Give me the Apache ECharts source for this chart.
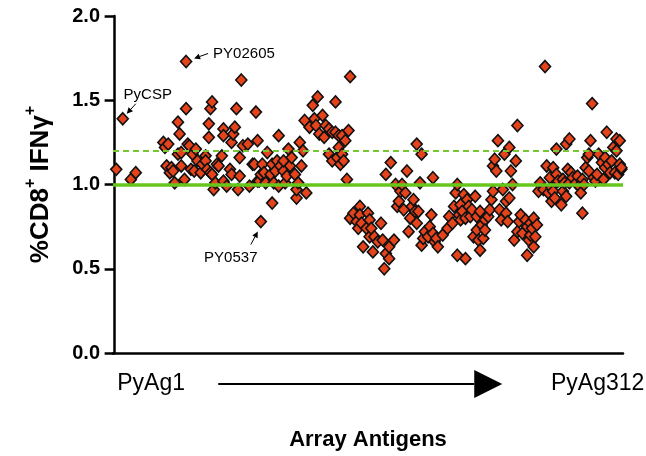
<!DOCTYPE html>
<html>
<head>
<meta charset="utf-8">
<script src="https://cdn.jsdelivr.net/npm/echarts@6/dist/echarts.min.js"></script>
<style>
html,body{margin:0;padding:0;background:#fff;}
#chart{width:646px;height:456px;}
</style>
</head>
<body>
<div id="chart"></div>
<script>
// antigen index (x) and %CD8+ IFNγ+ (y)
const antigenIndex = [1,5,10,13,30,31,32,33,34,35,36,37,39,39,40,41,41,43,44,44,45,46,47,48,49,50,51,53,54,56,56,57,58,58,59,59,60,60,61,62,63,64,66,67,67,67,69,71,72,72,73,74,75,76,77,77,78,79,82,83,85,86,87,88,88,89,90,90,91,92,93,94,96,97,97,98,99,100,101,101,102,104,104,105,106,107,108,109,111,112,112,113,114,115,116,117,118,120,122,123,124,125,126,128,129,130,132,132,134,134,136,136,137,138,138,139,140,140,141,142,143,144,145,145,147,149,150,151,151,152,153,155,156,157,157,158,159,160,162,164,165,166,167,167,169,169,170,172,173,174,175,176,177,178,179,180,181,182,183,184,185,186,186,187,188,189,189,190,191,193,194,195,196,196,197,198,199,202,205,206,208,209,210,211,211,212,213,213,214,215,216,216,217,218,219,220,221,222,223,223,224,225,225,226,227,228,228,230,231,232,233,233,234,235,236,237,238,239,240,241,241,242,243,243,244,245,246,247,248,248,249,250,251,253,254,254,255,256,256,257,258,258,259,260,261,262,264,265,266,267,268,269,269,270,270,271,272,272,273,275,276,276,277,278,278,279,280,280,281,282,284,285,286,287,288,288,289,290,291,292,292,293,294,295,296,297,298,300,301,302,302,303,304,305,306,307,308,309,309,310,311,311,312,312];
const cd8Ifng = [1.09,1.39,1.03,1.07,1.25,1.22,1.11,1.24,1.07,1.10,1.08,1.01,1.37,1.18,1.30,1.11,1.19,1.03,1.73,1.45,1.24,1.23,1.09,1.18,1.08,1.21,1.14,1.07,1.12,1.17,1.14,1.09,1.28,1.36,1.45,1.07,1.49,1.06,0.97,1.01,1.12,1.11,1.17,1.33,1.02,1.29,0.99,1.09,1.25,1.06,1.30,1.34,1.45,0.97,1.16,1.05,1.62,1.23,1.24,0.99,1.12,1.12,1.43,1.26,1.02,1.02,1.06,0.78,1.12,1.07,1.01,1.19,1.06,1.12,0.89,1.01,1.08,1.14,1.29,0.99,1.11,1.08,1.14,1.01,1.05,1.21,1.11,1.16,1.06,0.92,0.97,1.01,1.25,1.11,1.20,1.38,0.95,1.34,1.47,1.39,1.35,1.52,1.30,1.41,1.28,1.35,1.33,1.18,1.31,1.14,1.31,1.49,1.16,1.29,1.22,1.12,1.18,1.29,1.14,1.26,1.03,1.32,1.64,0.80,0.83,0.78,0.74,0.87,0.82,0.77,0.63,0.74,0.83,0.69,0.79,0.74,0.60,0.69,0.66,0.77,0.67,0.50,1.06,0.59,0.63,0.56,1.13,0.67,1.00,0.87,0.90,0.96,1.00,0.85,0.95,1.08,0.72,0.80,0.87,0.91,0.84,1.24,0.77,0.84,1.01,1.18,0.64,0.68,0.72,0.69,0.75,0.82,0.71,1.04,0.66,0.68,0.63,0.70,0.74,0.81,0.77,0.87,0.95,1.00,0.58,0.82,0.79,0.88,0.84,0.94,0.80,0.56,0.91,0.87,0.81,0.85,0.69,0.93,0.81,0.73,0.67,0.61,0.84,0.76,0.68,0.79,0.73,0.81,0.85,0.91,1.11,0.96,1.15,1.08,1.26,0.85,0.79,0.97,1.18,0.90,0.83,0.78,1.22,0.92,1.08,1.00,0.67,1.14,0.72,1.35,0.78,0.82,0.71,0.79,0.75,0.58,0.67,0.77,0.70,0.74,0.63,0.80,0.69,0.76,0.96,1.01,0.97,1.70,1.11,0.95,1.04,0.90,0.98,1.10,0.96,0.92,1.21,1.06,1.02,0.88,1.03,0.96,1.01,0.93,1.24,1.09,1.01,1.27,1.07,1.04,1.01,1.05,0.99,0.95,1.03,0.83,1.00,1.10,1.16,1.08,1.18,1.26,1.48,1.04,1.02,1.06,1.18,1.13,1.03,1.16,1.10,1.31,1.12,1.07,1.14,1.22,1.07,1.20,1.27,1.06,1.26,1.12,1.09,1.10];
const yTicks = [0, 0.5, 1.0, 1.5, 2.0];
const baselineLevel = 1.0;
const thresholdLevel = 1.2;
const calloutNames = ['PyCSP', 'PY02605', 'PY0537'];
const calloutIndex = [5, 44, 90];
const calloutValue = [1.39, 1.73, 0.78];
const xStartLabel = 'PyAg1';
const xEndLabel = 'PyAg312';

const FONT = '"Liberation Sans", Arial, sans-serif';
const points = antigenIndex.map((x, i) => [x, cd8Ifng[i]]);

const chart = echarts.init(document.getElementById('chart'), null, {renderer: 'canvas'});
chart.setOption({
  animation: false,
  backgroundColor: '#ffffff',
  grid: {left: 113, right: 23, top: 16, bottom: 99, containLabel: false},
  xAxis: {
    type: 'value', min: -1, max: 313,
    axisLine: {show: true, onZero: false, lineStyle: {color: '#000', width: 2.5}},
    axisTick: {show: false}, axisLabel: {show: false}, splitLine: {show: false},
    name: 'Array Antigens', nameLocation: 'middle', nameGap: 76,
    nameTextStyle: {fontFamily: FONT, fontWeight: 'bold', fontSize: 22, color: '#000'}
  },
  yAxis: {
    type: 'value', min: yTicks[0], max: yTicks[yTicks.length - 1], interval: 0.5,
    axisLine: {show: true, lineStyle: {color: '#000', width: 2.5}},
    axisTick: {show: true, inside: false, length: 10, lineStyle: {color: '#000', width: 2.5}},
    axisLabel: {fontFamily: FONT, fontWeight: 'bold', fontSize: 20, color: '#000', margin: 13,
      formatter: v => v.toFixed(1)},
    splitLine: {show: false},
    name: '%CD8{sup|+} IFNγ{sup|+}', nameLocation: 'middle', nameRotate: 90, nameGap: 54,
    nameTextStyle: {fontFamily: FONT, fontWeight: 'bold', fontSize: 26, color: '#000', lineHeight: 36,
      rich: {sup: {fontFamily: FONT, fontWeight: 'bold', fontSize: 16, color: '#000', verticalAlign: 'top', lineHeight: 16}}}
  },
  series: [
    {
      type: 'scatter', data: [], z: 1, silent: true,
      markLine: {
        silent: true, symbol: ['none', 'none'], label: {show: false},
        data: [
          {yAxis: baselineLevel, lineStyle: {color: '#66c61c', width: 3.5, type: 'solid'}},
          {yAxis: thresholdLevel, lineStyle: {color: '#76c832', width: 2, type: [6, 4]}}
        ]
      }
    },
    {
      type: 'scatter', z: 3, data: points,
      symbol: 'diamond', symbolSize: [11, 12],
      itemStyle: {color: '#e5431b', borderColor: '#111', borderWidth: 1.6, opacity: 1}
    }
  ]
});

// annotations and the x-axis range arrow
function arrow(x1, y1, x2, y2, head, lw) {
  const ang = Math.atan2(y2 - y1, x2 - x1);
  const bx = x2 - head * Math.cos(ang), by = y2 - head * Math.sin(ang);
  const w = head * 0.5;
  const px = -Math.sin(ang) * w, py = Math.cos(ang) * w;
  return [
    {type: 'line', shape: {x1: x1, y1: y1, x2: bx, y2: by}, style: {stroke: '#000', lineWidth: lw}, silent: true},
    {type: 'polygon', shape: {points: [[x2, y2], [bx + px, by + py], [bx - px, by - py]]}, style: {fill: '#000'}, silent: true}
  ];
}
const g = [];
const offs = [
  {tail: [13, -15], tip: [4, -5], text: [25, -24], align: 'center'},
  {tail: [22, -8], tip: [8, -3], text: [27, -8], align: 'left'},
  {tail: [-10, 23], tip: [-3, 10], text: [-30, 36], align: 'center'}
];
calloutNames.forEach((nm, i) => {
  const p = chart.convertToPixel({seriesIndex: 1}, [calloutIndex[i], calloutValue[i]]);
  const o = offs[i];
  g.push(...arrow(p[0] + o.tail[0], p[1] + o.tail[1], p[0] + o.tip[0], p[1] + o.tip[1], 6, 1));
  g.push({type: 'text', x: p[0] + o.text[0], y: p[1] + o.text[1], silent: true,
    style: {text: nm, font: '15px ' + FONT, fill: '#000', align: o.align, verticalAlign: 'middle'}});
});
const pStart = chart.convertToPixel({xAxisIndex: 0, yAxisIndex: 0}, [1, 0]);
const pEnd = chart.convertToPixel({xAxisIndex: 0, yAxisIndex: 0}, [312, 0]);
const ly = pStart[1] + 31;
g.push({type: 'text', x: pStart[0] + 1, y: ly, silent: true,
  style: {text: xStartLabel, font: '23px ' + FONT, fill: '#000', align: 'left', verticalAlign: 'middle'}});
g.push({type: 'text', x: pEnd[0] + 23, y: ly, silent: true,
  style: {text: xEndLabel, font: '23px ' + FONT, fill: '#000', align: 'right', verticalAlign: 'middle'}});
g.push(...arrow(pStart[0] + 102, ly, pStart[0] + 386, ly, 28, 2));
chart.setOption({graphic: g});
</script>
</body>
</html>
